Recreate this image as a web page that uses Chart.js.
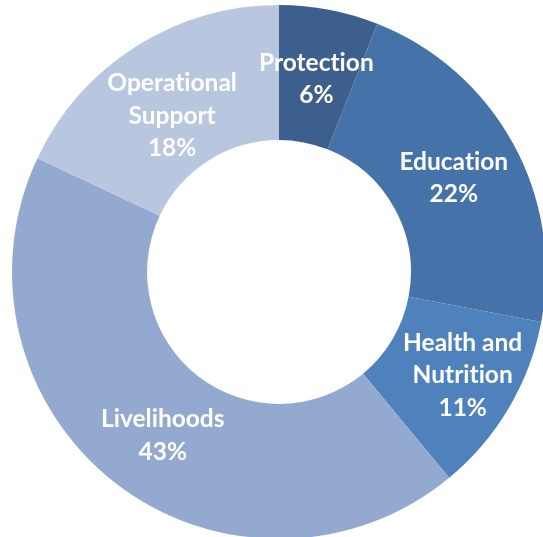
<!DOCTYPE html>
<html>
<head>
<meta charset="utf-8">
<script src="https://cdn.jsdelivr.net/npm/chart.js@4"></script>
<style>
  html, body { margin: 0; padding: 0; background: #fff; overflow: hidden; width: 543px; height: 537px; }
  #wrap { position: relative; width: 558px; height: 544px; }
</style>
</head>
<body>
<div id="wrap"><canvas id="donut" width="558" height="544"></canvas></div>
<script>
const categories = [['Protection'], ['Education'], ['Health and', 'Nutrition'], ['Livelihoods'], ['Operational', 'Support']];
const shares = [6, 22, 11, 43, 18];
const sliceColors = ['#3c5f8e', '#4572a9', '#4f81bd', '#94a9d0', '#b9c6e0'];

document.addEventListener('DOMContentLoaded', function () {
    const ctx = document.getElementById('donut').getContext('2d');

    // small nudges so the labels sit where the original put them
    const nudge = [[0, 3], [0, 2], [12, 2], [6, 6], [0, 12]];

    // draws the white labels at the middle of each ring segment
    const sliceLabels = {
        id: 'sliceLabels',
        afterDatasetsDraw(chart) {
            const c = chart.ctx;
            const meta = chart.getDatasetMeta(0);
            c.save();
            c.fillStyle = '#ffffff';
            c.font = 'bold 24.5px Lato';
            c.textAlign = 'center';
            c.textBaseline = 'middle';
            meta.data.forEach((arc, i) => {
                const p = arc.tooltipPosition();
                const lines = categories[i].concat([shares[i] + '%']);
                const lh = 32.5;
                const x = p.x + nudge[i][0];
                const top = p.y + nudge[i][1] - (lines.length - 1) * lh / 2;
                // zero width non-joiner keeps Lato from using its "ti" ligature
                lines.forEach((t, j) => c.fillText(t.replace(/ti/g, 't\u200Ci'), x, top + j * lh));
            });
            c.restore();
        }
    };

    new Chart(ctx, {
        type: 'doughnut',
        data: {
            labels: categories.map(l => l.join(' ')),
            datasets: [{
                data: shares,
                backgroundColor: sliceColors,
                borderWidth: 0
            }]
        },
        options: {
            responsive: false,
            animation: false,
            cutout: '49.4%',
            layout: { padding: { left: 12, right: 12, top: 5, bottom: 5 } },
            plugins: {
                legend: { display: false },
                tooltip: { enabled: false }
            }
        },
        plugins: [sliceLabels]
    });
});
</script>
</body>
</html>
